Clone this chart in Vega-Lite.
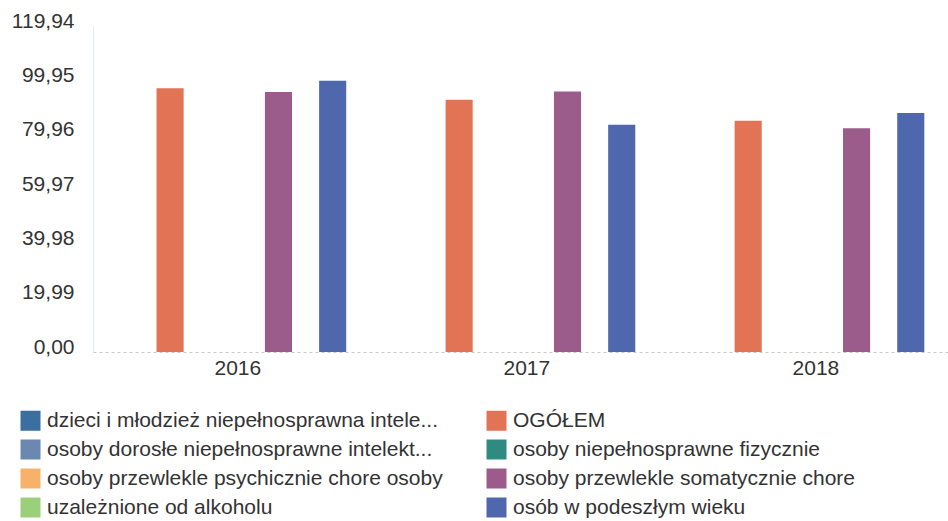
{
  "$schema": "https://vega.github.io/schema/vega-lite/v6.json",
  "width": 855,
  "height": 326,
  "autosize": {"type": "none"},
  "padding": {"left": 93, "top": 26, "right": 0, "bottom": 169},
  "background": "white",
  "config": {
    "view": {"stroke": null},
    "font": "Liberation Sans",
    "axis": {"labelFont": "Liberation Sans", "labelColor": "#333333", "labelFontSize": 21, "ticks": false, "grid": false, "title": null}
  },
  "data": {
    "values": [
      {"rok": "2016", "grupa": "OGÓŁEM", "wartosc": 97.0},
      {"rok": "2016", "grupa": "osoby przewlekle somatycznie chore", "wartosc": 95.7},
      {"rok": "2016", "grupa": "osób w podeszłym wieku", "wartosc": 99.8},
      {"rok": "2017", "grupa": "OGÓŁEM", "wartosc": 92.8},
      {"rok": "2017", "grupa": "osoby przewlekle somatycznie chore", "wartosc": 95.8},
      {"rok": "2017", "grupa": "osób w podeszłym wieku", "wartosc": 83.6},
      {"rok": "2018", "grupa": "OGÓŁEM", "wartosc": 85.1},
      {"rok": "2018", "grupa": "osoby przewlekle somatycznie chore", "wartosc": 82.3},
      {"rok": "2018", "grupa": "osób w podeszłym wieku", "wartosc": 87.9}
    ]
  },
  "mark": {"type": "bar", "width": {"band": 1}},
  "encoding": {
    "x": {
      "field": "rok", "type": "nominal",
      "scale": {"paddingInner": 0.25, "paddingOuter": 0.104, "align": 0.606},
      "axis": {"labelAngle": 0, "labelPadding": 5, "domainColor": "#c8c8c8", "domainDash": [3, 3], "domainWidth": 1}
    },
    "xOffset": {
      "field": "grupa", "type": "nominal",
      "scale": {"domain": ["dzieci i młodzież niepełnosprawna intele...", "OGÓŁEM", "osoby dorosłe niepełnosprawne intelekt...", "osoby niepełnosprawne fizycznie", "osoby przewlekle psychicznie chore osoby", "osoby przewlekle somatycznie chore", "uzależnione od alkoholu", "osób w podeszłym wieku"], "paddingInner": 0, "paddingOuter": 0}
    },
    "y": {
      "field": "wartosc", "type": "quantitative",
      "scale": {"domain": [0, 119.94], "nice": false, "zero": true},
      "axis": {"values": [0, 19.99, 39.98, 59.97, 79.96, 99.95, 119.94], "format": ".2f", "labelExpr": "replace(datum.label, '.', ',')", "labelPadding": 19, "labelOffset": -5, "domainColor": "#e4edf5", "domainWidth": 1}
    },
    "color": {
      "field": "grupa", "type": "nominal",
      "scale": {
        "domain": ["dzieci i młodzież niepełnosprawna intele...", "osoby dorosłe niepełnosprawne intelekt...", "osoby przewlekle psychicznie chore osoby", "uzależnione od alkoholu", "OGÓŁEM", "osoby niepełnosprawne fizycznie", "osoby przewlekle somatycznie chore", "osób w podeszłym wieku"],
        "range": ["#3a6f9f", "#6a88b0", "#f6b26b", "#9ccf7a", "#e27355", "#2f8a80", "#9b5c8c", "#4f68ad"]
      },
      "legend": {
        "title": null,
        "orient": "none",
        "legendX": -73,
        "legendY": 384,
        "columns": 2,
        "columnPadding": 43,
        "rowPadding": 7,
        "padding": 0,
        "symbolType": "square",
        "symbolSize": 400,
        "symbolStrokeWidth": 0,
        "symbolOpacity": 1,
        "labelFont": "Liberation Sans",
        "labelFontSize": 21,
        "labelColor": "#333333",
        "labelOffset": 6,
        "labelLimit": 0
      }
    }
  }
}
